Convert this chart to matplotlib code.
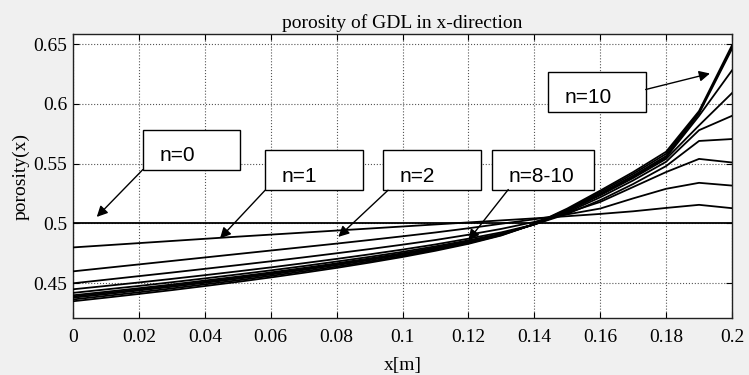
import matplotlib.pyplot as plt
from matplotlib.patches import Rectangle

x = [0.00, 0.01, 0.02, 0.03, 0.04, 0.05, 0.06, 0.07, 0.08, 0.09, 0.10,
     0.11, 0.12, 0.13, 0.14, 0.15, 0.16, 0.17, 0.18, 0.19, 0.20]

n0 = [0.5] * len(x)
n1 = [.4800, .4818, .4836, .4854, .4872, .4890, .4907, .4924, .4941, .4958, .4975,
      .4992, .5009, .5026, .5043, .5061, .5080, .5102, .5130, .5156, .5128]
n2 = [.4600, .4629, .4658, .4687, .4716, .4745, .4774, .4803, .4832, .4862, .4893,
      .4925, .4960, .4998, .5035, .5076, .5125, .5210, .5290, .5340, .5317]
n3 = [.4500, .4530, .4560, .4590, .4621, .4652, .4684, .4717, .4751, .4786, .4823,
      .4862, .4906, .4955, .5013, .5090, .5180, .5305, .5430, .5540, .5510]
n4 = [.4450, .4478, .4507, .4537, .4568, .4600, .4633, .4668, .4704, .4742, .4782,
      .4825, .4873, .4926, .4992, .5080, .5195, .5330, .5480, .5690, .5706]
n5 = [.4420, .4449, .4478, .4509, .4541, .4574, .4608, .4644, .4682, .4721, .4763,
      .4809, .4859, .4915, .4991, .5093, .5219, .5360, .5516, .5780, .5900]
n6 = [.4400, .4429, .4459, .4490, .4523, .4556, .4591, .4628, .4667, .4708, .4751,
      .4799, .4851, .4911, .4993, .5103, .5235, .5380, .5540, .5820, .6090]
n7 = [.4390, .4419, .4449, .4481, .4513, .4547, .4583, .4620, .4659, .4701, .4745,
      .4793, .4846, .4909, .4993, .5107, .5243, .5390, .5552, .5900, .6280]
n8 = [.4380, .4409, .4440, .4471, .4504, .4538, .4574, .4612, .4652, .4694, .4739,
      .4788, .4842, .4907, .4994, .5112, .5251, .5400, .5564, .5920, .6460]
n9 = [.4365, .4395, .4425, .4457, .4491, .4525, .4562, .4600, .4640, .4683, .4729,
      .4780, .4836, .4903, .4994, .5118, .5263, .5415, .5582, .5930, .6475]
n10 = [.4350, .4380, .4411, .4443, .4477, .4512, .4549, .4588, .4629, .4673, .4720,
       .4772, .4830, .4900, .4995, .5125, .5275, .5430, .5600, .5940, .6490]
curves = [n0, n1, n2, n3, n4, n5, n6, n7, n8, n9, n10]

xticks = [0, 0.02, 0.04, 0.06, 0.08, 0.1, 0.12, 0.14, 0.16, 0.18, 0.2]
xticklabels = ['0', '0.02', '0.04', '0.06', '0.08', '0.1', '0.12', '0.14', '0.16', '0.18', '0.2']
yticks = [0.45, 0.5, 0.55, 0.6, 0.65]
yticklabels = ['0.45', '0.5', '0.55', '0.6', '0.65']

# label boxes: text, (x0, x1, y0, y1), arrow start, arrow tip
labels = ['n=0', 'n=1', 'n=2', 'n=8-10', 'n=10']
boxes = [(0.0212, 0.0507, 0.5451, 0.578),
         (0.0583, 0.0880, 0.5278, 0.5613),
         (0.0942, 0.1238, 0.5278, 0.5613),
         (0.1273, 0.1582, 0.5278, 0.5613),
         (0.1441, 0.1738, 0.5933, 0.6267)]
starts = [(0.0212, 0.5451), (0.0583, 0.5278), (0.0956, 0.5278), (0.1321, 0.5284), (0.1738, 0.612)]
tips = [(0.0072, 0.5055), (0.0446, 0.4875), (0.0805, 0.4888), (0.120, 0.486), (0.1933, 0.6254)]

serif = 'Liberation Serif'
sans = 'Liberation Sans'

fig = plt.figure(figsize=(7.49, 3.75), dpi=100, facecolor='#f0f0f0')
ax = fig.add_axes([0.0975, 0.152, 0.8798, 0.7573])
ax.set_facecolor('white')

for c in curves:
    ax.plot(x, c, color='black', lw=1.3, zorder=3)

ax.set_xlim(0, 0.2)
ax.set_ylim(0.421, 0.6584)
ax.set_xticks(xticks)
ax.set_xticklabels(xticklabels, fontfamily=serif, fontsize=14)
ax.set_yticks(yticks)
ax.set_yticklabels(yticklabels, fontfamily=serif, fontsize=14)
ax.tick_params(direction='in', top=True, right=True, length=4, width=0.8, pad=8)
ax.tick_params(axis='y', pad=4)
ax.grid(True, color='#555555', linestyle=':', linewidth=0.8)
ax.set_axisbelow(True)
for s in ax.spines.values():
    s.set_linewidth(1.0)
    s.set_color('#222222')

ax.set_title('porosity of GDL in x-direction', fontfamily=serif, fontsize=14, pad=4)
ax.set_xlabel('x[m]', fontfamily=serif, fontsize=14, labelpad=8)
ax.set_ylabel('porosity(x)', fontfamily=serif, fontsize=14, labelpad=3)

for lab, (x0, x1, y0, y1), st, tp in zip(labels, boxes, starts, tips):
    ax.add_patch(Rectangle((x0, y0), x1 - x0, y1 - y0, facecolor='white',
                           edgecolor='black', lw=1.0, zorder=5))
    ax.text(x0 + 0.005, (y0 + y1) / 2 - 0.005, lab, fontfamily=sans, fontsize=15,
            ha='left', va='center', zorder=6)
    ax.annotate('', xy=tp, xytext=st, zorder=6,
                arrowprops=dict(arrowstyle='-|>', color='black', lw=1.0,
                                mutation_scale=16, shrinkA=0, shrinkB=0))

fig.savefig('out.png', dpi=100, facecolor=fig.get_facecolor())
